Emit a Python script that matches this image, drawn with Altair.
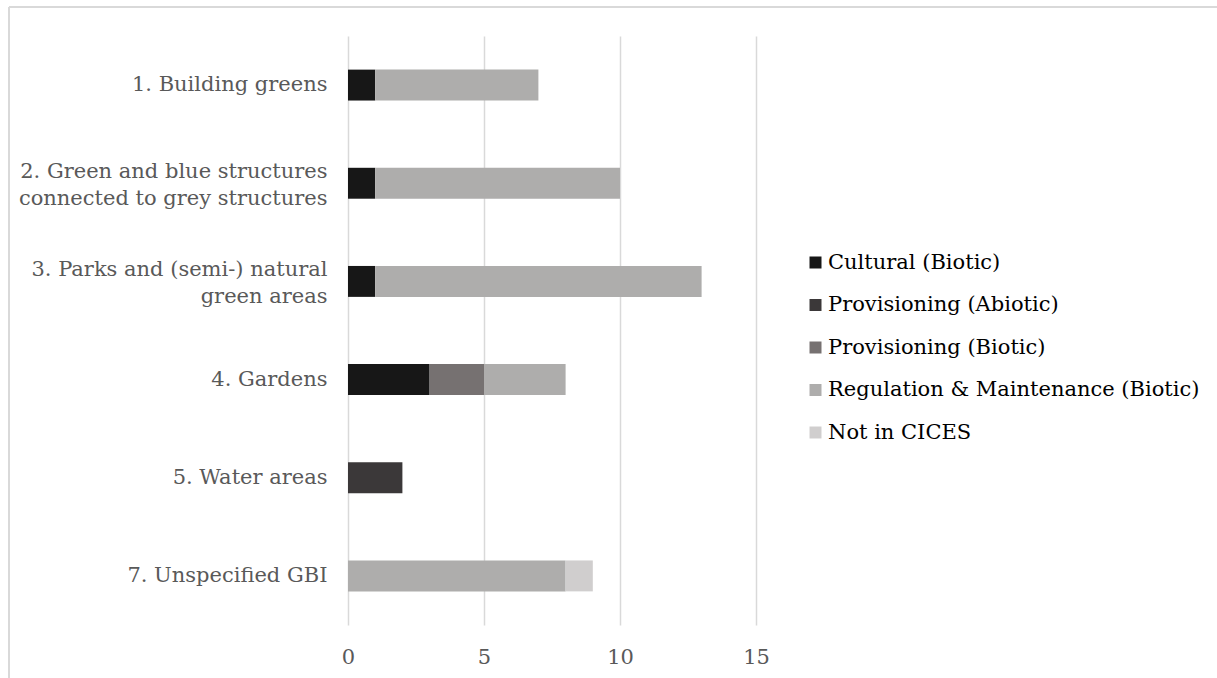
import altair as alt
import pandas as pd

categories = [
    "1. Building greens",
    "2. Green and blue structures|connected to grey structures",
    "3. Parks and (semi-) natural|green areas",
    "4. Gardens",
    "5. Water areas",
    "7. Unspecified GBI",
]
series = [
    "Cultural (Biotic)",
    "Provisioning (Abiotic)",
    "Provisioning (Biotic)",
    "Regulation & Maintenance (Biotic)",
    "Not in CICES",
]
colors = ["#171717", "#3b3839", "#767171", "#aeadac", "#d0cece"]

cultural = [1, 1, 1, 3, 0, 0]
prov_abiotic = [0, 0, 0, 0, 2, 0]
prov_biotic = [0, 0, 0, 2, 0, 0]
regulation = [6, 9, 12, 3, 0, 8]
not_cices = [0, 0, 0, 0, 0, 1]

values = [cultural, prov_abiotic, prov_biotic, regulation, not_cices]
rows = []
for si, (s, vals) in enumerate(zip(series, values)):
    for c, v in zip(categories, vals):
        if v:
            rows.append({"cat": c, "series": s, "value": v, "order": si})
df = pd.DataFrame(rows)

FONT = "DejaVu Serif"
FS = 21

bars = alt.Chart(df).mark_bar().encode(
    y=alt.Y("cat:N", sort=categories, title=None,
            scale=alt.Scale(paddingInner=0.685, paddingOuter=0.3425),
            axis=alt.Axis(labelExpr="split(datum.label, '|')", labelFont=FONT,
                          labelFontSize=FS, labelColor="#595959", labelLineHeight=27,
                          labelOffset={"expr": "indexof(datum.value, '|') >= 0 ? -11 : 0"},
                          ticks=False, domain=False, labelPadding=21, grid=False,
                          labelLimit=400)),
    x=alt.X("value:Q", title=None, stack="zero",
            scale=alt.Scale(domain=[0, 15], nice=False),
            axis=alt.Axis(values=[0, 5, 10, 15], labelFont=FONT, labelFontSize=FS,
                          labelColor="#595959", ticks=False, domain=False,
                          grid=True, gridColor="#d9d9d9", gridWidth=1.5,
                          labelPadding=21, labelFlush=False)),
    color=alt.Color("series:N", sort=series,
                    scale=alt.Scale(domain=series, range=colors),
                    legend=alt.Legend(title=None, orient="none", legendX=457, legendY=216,
                                      symbolType="square", symbolSize=144,
                                      symbolStrokeWidth=0, labelFont=FONT,
                                      labelFontSize=FS, labelColor="#000000",
                                      rowPadding=20.5, labelOffset=2, labelLimit=500)),
    order=alt.Order("order:Q"),
)

top_border = alt.Chart(df).mark_rule(color="#d9d9d9", strokeWidth=2).encode(
    x=alt.value(-339), x2=alt.value(900), y=alt.value(-29))
left_border = alt.Chart(df).mark_rule(color="#d9d9d9", strokeWidth=2).encode(
    x=alt.value(-339), y=alt.value(-29), y2=alt.value(700))

chart = alt.layer(bars, top_border, left_border).properties(
    width=408, height=589,
    autosize=alt.AutoSizeParams(type="none"),
    padding={"left": 348, "top": 36, "right": 461, "bottom": 53},
).configure(background="white").configure_view(stroke=None, strokeWidth=0)

chart.save("out.html", embed_options={"renderer": "svg", "actions": False})
